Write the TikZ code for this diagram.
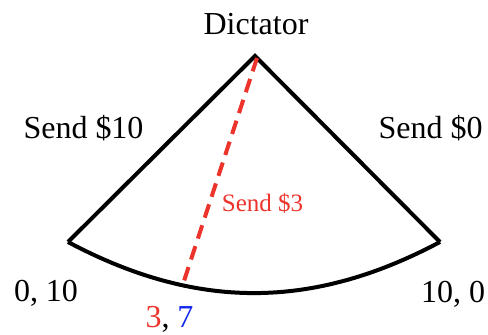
\documentclass[tikz,border=0pt]{standalone}
\usepackage{fontspec}
\setmainfont{Liberation Serif}
\definecolor{offerred}{RGB}{236,52,44}
\definecolor{splitblue}{RGB}{20,40,235}
\tikzset{
  lbl/.style={anchor=base, inner sep=0pt, font=\fontsize{32}{38}\selectfont},
  edge/.style={line width=4pt, black, line join=miter},
  offer/.style={line width=4pt, offerred, dash pattern=on 14pt off 8pt}
}
\begin{document}
\begin{tikzpicture}[x=1pt, y=1pt]
            \useasboundingbox (0,0) rectangle (488,335);
            % Corners of the fan
            \coordinate (apex) at (255,279);
            \coordinate (left) at (68,93);
            \coordinate (right) at (440,93);
            \coordinate (top3) at (257,277);
            \coordinate (cut3) at (184,54);
            % Fan
            \draw [edge] (left) -- (apex) -- (right);
            \draw [edge] (left) to[bend right=28] (right);
            % Offer of 3
            \draw [offer] (top3) -- (cut3);
            % Labels
            \node [lbl] (dictator) at (256,300) {Dictator};
            \node [lbl] (send10) at (83.5,196) {Send \$10};
            \node [lbl] (send0) at (430.5,196) {Send \$0};
            \node [lbl, font=\fontsize{25}{30}\selectfont, text=offerred] (send3) at (262.5,123) {Send \$3};
            \node [lbl] (pay10) at (46,33) {0, 10};
            \node [lbl] (pay0) at (453,32) {10, 0};
            \node [lbl] (pay3) at (169.5,7) {\textcolor{offerred}{3}, \textcolor{splitblue}{7}};
\end{tikzpicture}
\end{document}
